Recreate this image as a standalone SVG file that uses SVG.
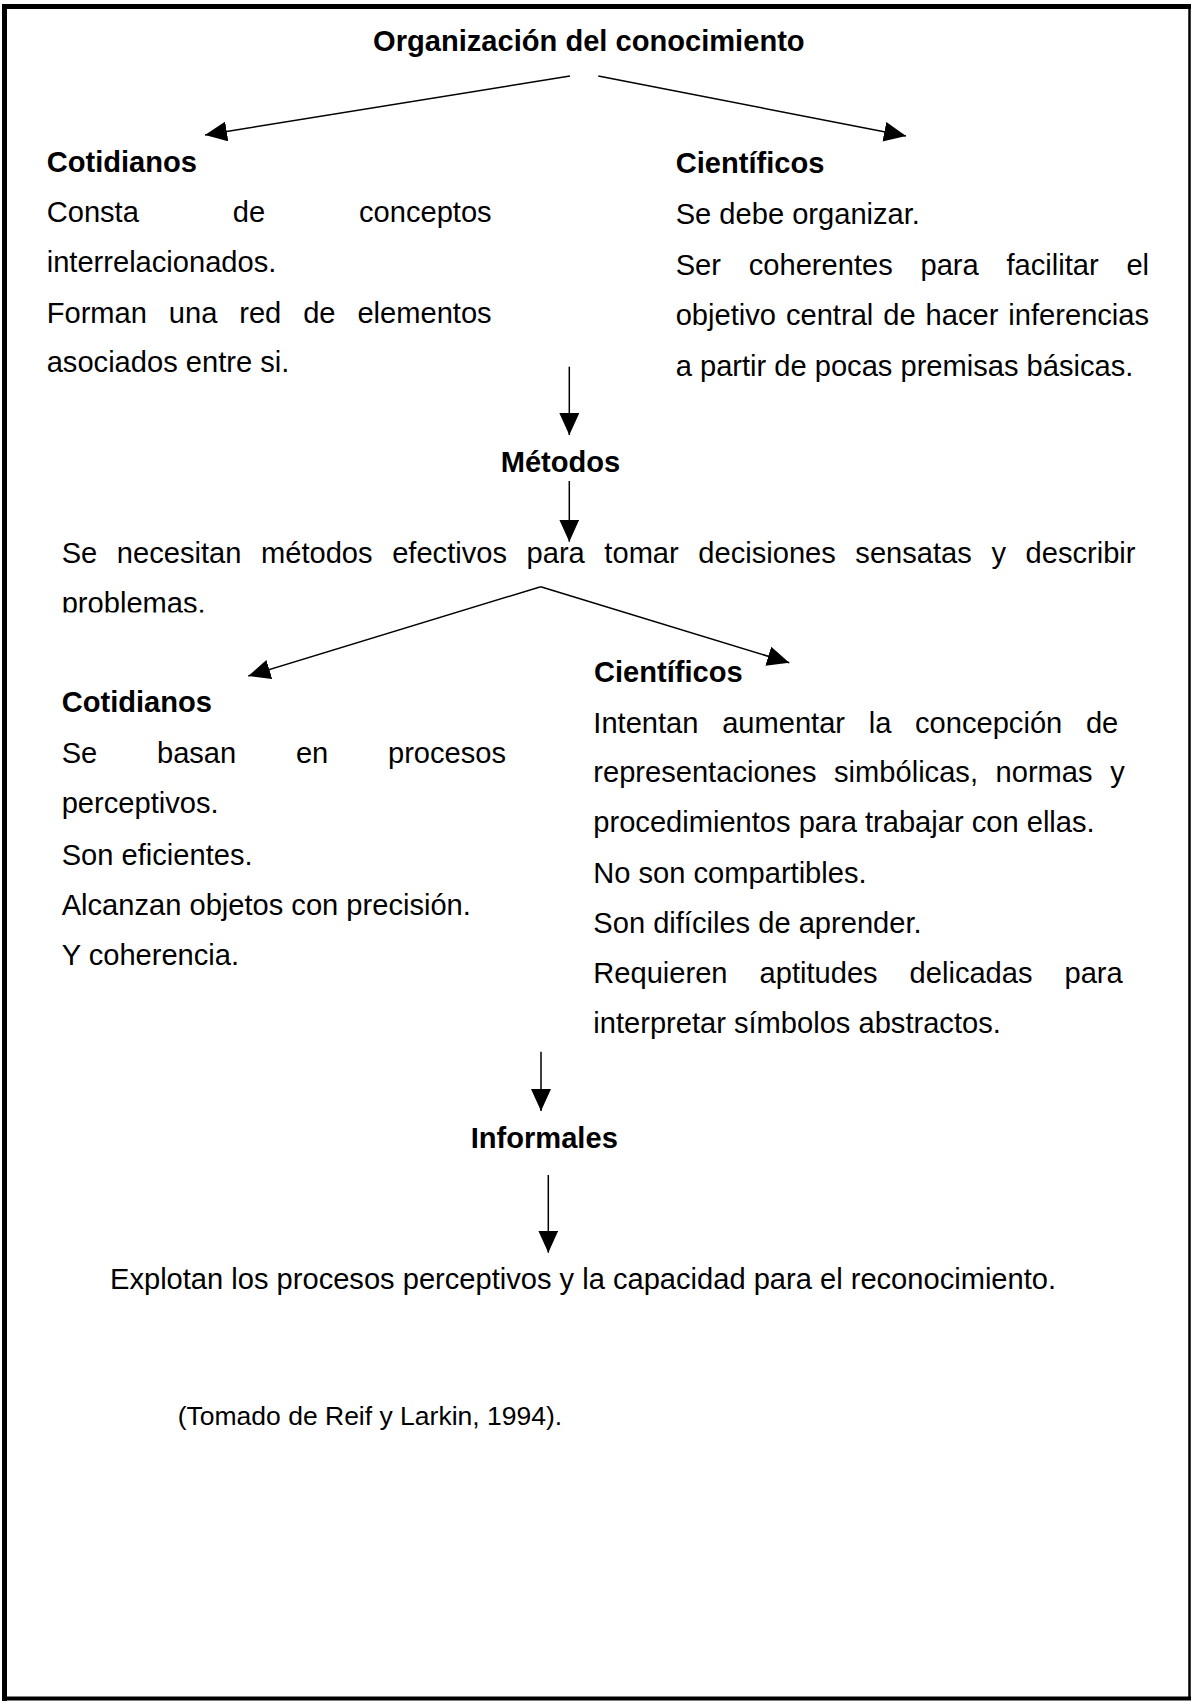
<svg xmlns="http://www.w3.org/2000/svg" width="1193" height="1705" viewBox="0 0 1193 1705">
<style>
.t{font-family:"Liberation Sans",Arial,sans-serif;font-size:29.1px;fill:#000}
.b{font-weight:bold}
.c{stroke:#000;stroke-width:1.5;fill:none;marker-end:url(#ah)}
.frame{stroke:#000;fill:none}
</style>
<defs>
<marker id="ah" markerUnits="userSpaceOnUse" markerWidth="22" markerHeight="20" refX="22" refY="10" orient="auto" viewBox="0 0 22 20">
<path d="M0,0 L22,10 L0,20 z" fill="#000"/>
</marker>
<clipPath id="clipProb"><rect x="0" y="560" width="1193" height="52.5"/></clipPath>
</defs>
<rect x="0" y="0" width="1193" height="1705" fill="#fff"/>
<g id="frame">
<line class="frame" x1="4.5" y1="4" x2="4.5" y2="1701" stroke-width="5"/>
<line class="frame" x1="2" y1="6.5" x2="1191" y2="6.5" stroke-width="5"/>
<line class="frame" x1="2" y1="1698.5" x2="1191" y2="1698.5" stroke-width="4"/>
<line class="frame" x1="1189.5" y1="4" x2="1189.5" y2="1700" stroke-width="2.5"/>
</g>
<g id="connectors">
<path class="c" d="M570,76 L205,135"/>
<path class="c" d="M598.3,76 L906,136"/>
<path class="c" d="M569.3,366.7 L569.3,435"/>
<path class="c" d="M569.3,481 L569.3,541.7"/>
<path class="c" d="M540.7,586.7 L248.3,676"/>
<path class="c" d="M540.7,586.7 L789.3,662.7"/>
<path class="c" d="M541,1051.7 L541,1111"/>
<path class="c" d="M548.3,1175 L548.3,1252.7"/>
</g>
<g id="title">
<text class="t b" x="373" y="50.5">Organización del conocimiento</text>
</g>
<g id="cotidianos1">
<text class="t b" x="46.7" y="171.7">Cotidianos</text>
<text class="t" x="46.7" y="221.7" word-spacing="85.8">Consta de conceptos</text>
<text class="t" x="46.7" y="271.7">interrelacionados.</text>
<text class="t" x="46.7" y="322.5" word-spacing="13.8">Forman una red de elementos</text>
<text class="t" x="46.7" y="372">asociados entre si.</text>
</g>
<g id="cientificos1">
<text class="t b" x="675.7" y="172.7">Científicos</text>
<text class="t" x="675.7" y="224">Se debe organizar.</text>
<text class="t" x="675.7" y="274.5" word-spacing="19.7">Ser coherentes para facilitar el</text>
<text class="t" x="675.7" y="325" word-spacing="1.9">objetivo central de hacer inferencias</text>
<text class="t" x="675.7" y="375.5">a partir de pocas premisas básicas.</text>
</g>
<g id="metodos">
<text class="t b" x="500.7" y="471.7">Métodos</text>
</g>
<g id="metodos-desc">
<text class="t" x="61.7" y="563" word-spacing="11.5">Se necesitan métodos efectivos para tomar decisiones sensatas y describir</text>
<text class="t" x="61.7" y="612.5" clip-path="url(#clipProb)">problemas.</text>
</g>
<g id="cotidianos2">
<text class="t b" x="61.7" y="711.7">Cotidianos</text>
<text class="t" x="61.7" y="762.7" word-spacing="51.6">Se basan en procesos</text>
<text class="t" x="61.7" y="813.3">perceptivos.</text>
<text class="t" x="61.7" y="865">Son eficientes.</text>
<text class="t" x="61.7" y="915">Alcanzan objetos con precisión.</text>
<text class="t" x="61.7" y="965">Y coherencia.</text>
</g>
<g id="cientificos2">
<text class="t b" x="594" y="681.7">Científicos</text>
<text class="t" x="593.3" y="732.7" word-spacing="15.6">Intentan aumentar la concepción de</text>
<text class="t" x="593.3" y="781.7" word-spacing="9.5">representaciones simbólicas, normas y</text>
<text class="t" x="593.3" y="831.7">procedimientos para trabajar con ellas.</text>
<text class="t" x="593.3" y="882.7">No son compartibles.</text>
<text class="t" x="593.3" y="932.7">Son difíciles de aprender.</text>
<text class="t" x="593.3" y="983.3" word-spacing="23.9">Requieren aptitudes delicadas para</text>
<text class="t" x="593.3" y="1033.3">interpretar símbolos abstractos.</text>
</g>
<g id="informales">
<text class="t b" x="470.7" y="1148.3">Informales</text>
</g>
<g id="explotan">
<text class="t" x="110" y="1289.3">Explotan los procesos perceptivos y la capacidad para el reconocimiento.</text>
</g>
<g id="citation">
<text class="t" x="177.7" y="1425" style="font-size:26.5px">(Tomado de Reif y Larkin, 1994).</text>
</g>
</svg>
